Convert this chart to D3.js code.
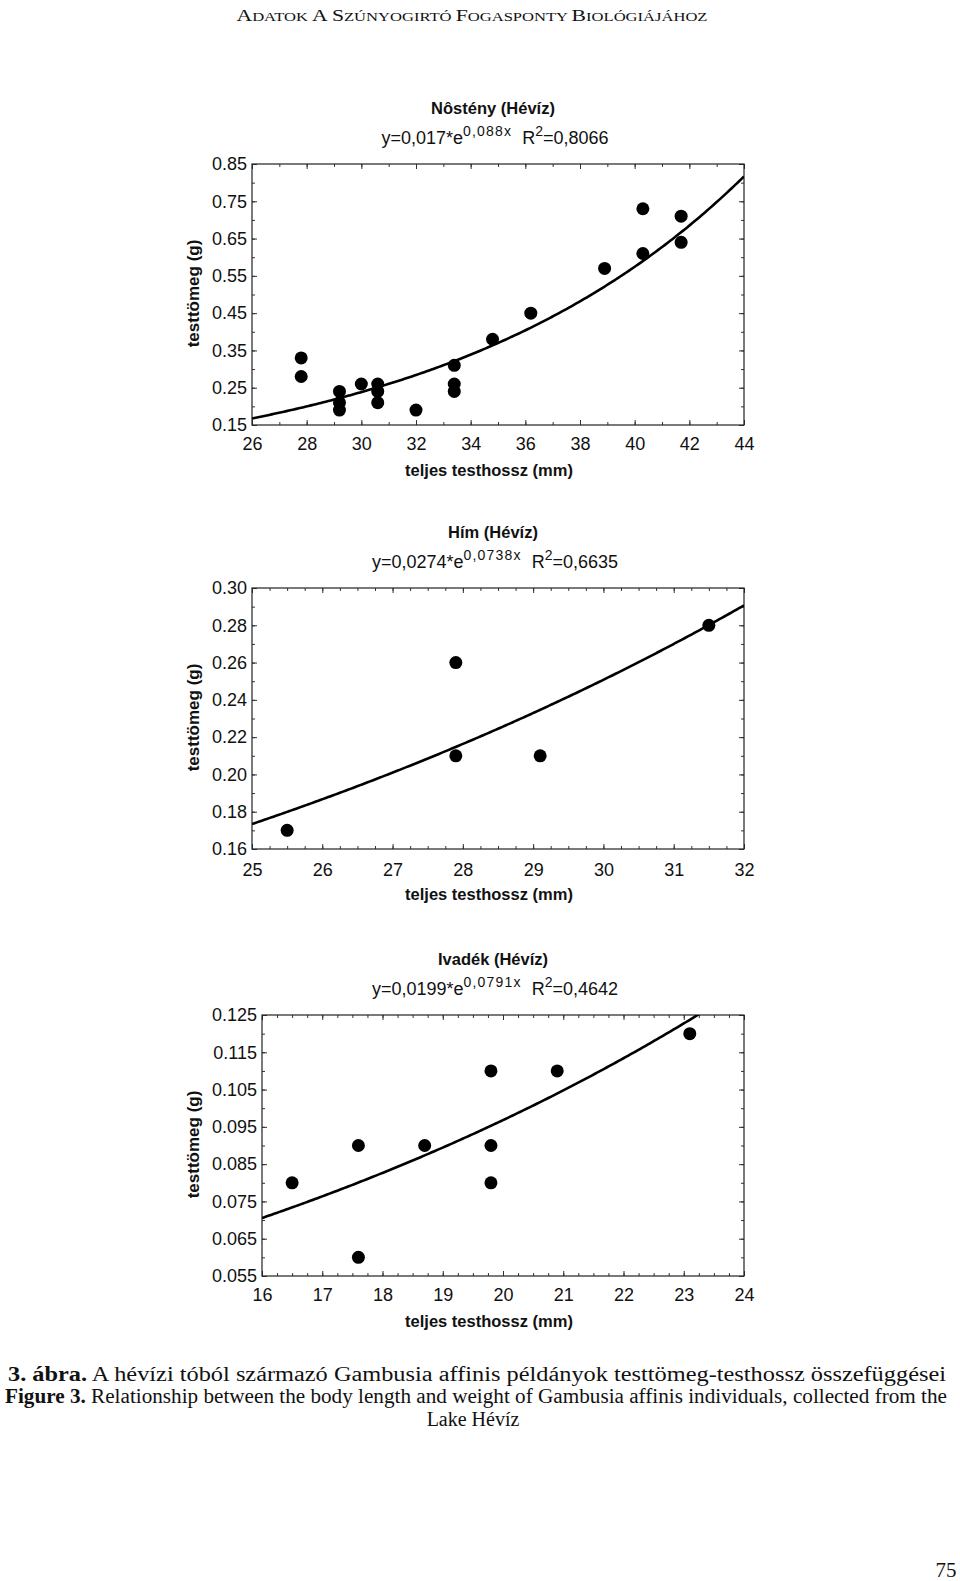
<!DOCTYPE html>
<html><head><meta charset="utf-8">
<script src="https://cdn.jsdelivr.net/npm/d3@7"></script>
<style>body{margin:0;background:#fff}svg{display:block}</style>
</head><body>
<script>
// ---------- DATA ----------
// Panel 1: Nôstény (female)
const femaleLength = [27.8, 27.8, 29.2, 29.2, 29.2, 30.0, 30.6, 30.6, 30.6, 32.0, 33.4, 33.4, 33.4, 34.8, 36.2, 38.9, 40.3, 40.3, 41.7, 41.7];
const femaleWeight = [0.33, 0.28, 0.24, 0.21, 0.19, 0.26, 0.26, 0.24, 0.21, 0.19, 0.31, 0.26, 0.24, 0.38, 0.45, 0.57, 0.73, 0.61, 0.71, 0.64];
const femaleXTicks = [26, 28, 30, 32, 34, 36, 38, 40, 42, 44];
const femaleYTicks = [0.85, 0.75, 0.65, 0.55, 0.45, 0.35, 0.25, 0.15];
// Panel 2: Hím (male)
const maleLength = [25.5, 27.9, 27.9, 29.1, 31.5];
const maleWeight = [0.17, 0.26, 0.21, 0.21, 0.28];
const maleXTicks = [25, 26, 27, 28, 29, 30, 31, 32];
const maleYTicks = [0.30, 0.28, 0.26, 0.24, 0.22, 0.20, 0.18, 0.16];
// Panel 3: Ivadék (juvenile)
const juvLength = [16.5, 17.6, 17.6, 18.7, 19.8, 19.8, 19.8, 20.9, 23.1];
const juvWeight = [0.08, 0.09, 0.06, 0.09, 0.11, 0.09, 0.08, 0.11, 0.12];
const juvXTicks = [16, 17, 18, 19, 20, 21, 22, 23, 24];
const juvYTicks = [0.125, 0.115, 0.105, 0.095, 0.085, 0.075, 0.065, 0.055];
// Fitted exponential trend lines, as printed on the chart: y = a * e^(b x)
const fitA = [0.017, 0.0274, 0.0199];
const fitB = [0.088, 0.0738, 0.0791];
const fitR2 = ["0,8066", "0,6635", "0,4642"];
const panelTitles = ["Nôstény (Hévíz)", "Hím (Hévíz)", "Ivadék (Hévíz)"];
const coefA = ["0,017", "0,0274", "0,0199"];
const coefB = ["0,088x", "0,0738x", "0,0791x"];
const yAxisTitle = "testtömeg (g)";
const xAxisTitle = "teljes testhossz (mm)";

// ---------- LAYOUT ----------
const W = 960, H = 1581;
const sans = "'Liberation Sans', Arial, Helvetica, sans-serif";
const serif = "'Liberation Serif', 'Times New Roman', serif";
const svg = d3.select("body").append("svg").attr("width", W).attr("height", H);
svg.append("rect").attr("width", W).attr("height", H).attr("fill", "#fff");

const panels = [
  {len: femaleLength, wt: femaleWeight, xt: femaleXTicks, yt: femaleYTicks,
   box: {l: 252, r: 744, t: 164, b: 425}, xMinor: 1, yMinor: 0.05, yFmt: ".2f", xPad: 12},
  {len: maleLength, wt: maleWeight, xt: maleXTicks, yt: maleYTicks,
   box: {l: 252, r: 744, t: 588, b: 849}, xMinor: 0.25, yMinor: 0.01, yFmt: ".2f", xPad: 14},
  {len: juvLength, wt: juvWeight, xt: juvXTicks, yt: juvYTicks,
   box: {l: 262, r: 744, t: 1015, b: 1276}, xMinor: 0.25, yMinor: 0.005, yFmt: ".3f", xPad: 12}
];

function minorTicks(lo, hi, step) {
  const n = Math.round((hi - lo) / step);
  return d3.range(n + 1).map(i => +(lo + i * step).toFixed(6));
}

panels.forEach((p, i) => {
  const {l, r, t, b} = p.box;
  const x = d3.scaleLinear().domain([p.xt[0], p.xt[p.xt.length - 1]]).range([l, r]);
  const y = d3.scaleLinear().domain([p.yt[p.yt.length - 1], p.yt[0]]).range([b, t]);
  const g = svg.append("g");

  // title and equation
  g.append("text").attr("x", 493).attr("y", t - 50).attr("text-anchor", "middle")
    .attr("font-family", sans).attr("font-size", 16.5).attr("font-weight", "bold")
    .attr("fill", "#111").text(panelTitles[i]);
  const eq = g.append("text").attr("x", 495).attr("y", t - 20).attr("text-anchor", "middle")
    .attr("font-family", sans).attr("font-size", 18).attr("fill", "#111");
  eq.append("tspan").text("y=" + coefA[i] + "*e");
  eq.append("tspan").attr("dy", -8).attr("font-size", 14).attr("letter-spacing", 1.2).text(coefB[i]);
  eq.append("tspan").attr("dy", 8).attr("dx", 10).text("R");
  eq.append("tspan").attr("dy", -8).attr("font-size", 14).text("2");
  eq.append("tspan").attr("dy", 8).text("=" + fitR2[i]);

  // axes: major ticks with labels
  const xMin = minorTicks(p.xt[0], p.xt[p.xt.length - 1], p.xMinor);
  const yMin = minorTicks(p.yt[p.yt.length - 1], p.yt[0], p.yMinor);

  const axB = g.append("g").attr("transform", `translate(0,${b})`)
    .call(d3.axisBottom(x).tickValues(p.xt).tickFormat(d3.format("d")).tickSizeInner(-5).tickSizeOuter(0).tickPadding(p.xPad));
  const axL = g.append("g").attr("transform", `translate(${l},0)`)
    .call(d3.axisLeft(y).tickValues(p.yt).tickFormat(d3.format(p.yFmt)).tickSizeInner(-5).tickSizeOuter(0).tickPadding(5));
  const axT = g.append("g").attr("transform", `translate(0,${t})`)
    .call(d3.axisTop(x).tickValues(p.xt).tickFormat("").tickSizeInner(-5).tickSizeOuter(0));
  const axR = g.append("g").attr("transform", `translate(${r},0)`)
    .call(d3.axisRight(y).tickValues(p.yt).tickFormat("").tickSizeInner(-5).tickSizeOuter(0));
  // minor ticks
  const mB = g.append("g").attr("transform", `translate(0,${b})`)
    .call(d3.axisBottom(x).tickValues(xMin).tickFormat("").tickSizeInner(-3).tickSizeOuter(0));
  const mT = g.append("g").attr("transform", `translate(0,${t})`)
    .call(d3.axisTop(x).tickValues(xMin).tickFormat("").tickSizeInner(-3).tickSizeOuter(0));
  const mL = g.append("g").attr("transform", `translate(${l},0)`)
    .call(d3.axisLeft(y).tickValues(yMin).tickFormat("").tickSizeInner(-3).tickSizeOuter(0));
  const mR = g.append("g").attr("transform", `translate(${r},0)`)
    .call(d3.axisRight(y).tickValues(yMin).tickFormat("").tickSizeInner(-3).tickSizeOuter(0));

  [axB, axL, axT, axR, mB, mT, mL, mR].forEach(a => {
    a.select(".domain").remove();
    a.selectAll(".tick line").attr("stroke", "#333").attr("stroke-width", 1);
    a.selectAll(".tick text").attr("font-family", sans).attr("font-size", 18).attr("fill", "#111");
  });

  // frame
  g.append("rect").attr("x", l).attr("y", t).attr("width", r - l).attr("height", b - t)
    .attr("fill", "none").attr("stroke", "#222").attr("stroke-width", 1.2);

  // axis titles
  g.append("text").attr("x", 489).attr("y", b + 51).attr("text-anchor", "middle")
    .attr("font-family", sans).attr("font-size", 16.5).attr("font-weight", "bold").attr("fill", "#111")
    .text(xAxisTitle);
  g.append("text").attr("transform", `translate(199,${(t + b) / 2 - 1}) rotate(-90)`)
    .attr("text-anchor", "middle").attr("font-family", sans).attr("font-size", 17)
    .attr("font-weight", "bold").attr("fill", "#111").text(yAxisTitle);

  // trend line (clipped to the frame)
  const clipId = "clip" + i;
  svg.append("clipPath").attr("id", clipId).append("rect")
    .attr("x", l).attr("y", t).attr("width", r - l).attr("height", b - t);
  const xs = d3.range(p.xt[0], p.xt[p.xt.length - 1] + 1e-9, (p.xt[p.xt.length - 1] - p.xt[0]) / 200);
  const line = d3.line().x(d => x(d)).y(d => y(fitA[i] * Math.exp(fitB[i] * d))).curve(d3.curveLinear);
  g.append("path").datum(xs).attr("d", line).attr("fill", "none").attr("stroke", "#000")
    .attr("stroke-width", 2.6).attr("clip-path", `url(#${clipId})`);

  // points
  g.selectAll("circle.pt").data(p.len.map((v, k) => [v, p.wt[k]])).enter().append("circle")
    .attr("class", "pt").attr("cx", d => x(d[0])).attr("cy", d => y(d[1])).attr("r", 6.5).attr("fill", "#000");
});

// ---------- PAGE TEXT ----------
const header = svg.append("text").attr("x", 472).attr("y", 21).attr("text-anchor", "middle")
  .attr("font-family", serif).attr("fill", "#111").attr("textLength", 471).attr("lengthAdjust", "spacingAndGlyphs");
[["A", 1], ["DATOK", 0], [" ", 0], ["A", 1], [" ", 0], ["S", 1], ["ZÚNYOGIRTÓ", 0], [" ", 0],
 ["F", 1], ["OGASPONTY", 0], [" ", 0], ["B", 1], ["IOLÓGIÁJÁHOZ", 0]].forEach(([s, big]) => {
  header.append("tspan").attr("font-size", big ? 17 : 13).text(s);
});

const cap1 = svg.append("text").attr("x", 477).attr("y", 1381).attr("text-anchor", "middle")
  .attr("font-family", serif).attr("font-size", 20).attr("fill", "#111")
  .attr("textLength", 938).attr("lengthAdjust", "spacingAndGlyphs");
cap1.append("tspan").attr("font-weight", "bold").text("3. ábra.");
cap1.append("tspan").text(" A hévízi tóból származó Gambusia affinis példányok testtömeg-testhossz összefüggései");

const cap2 = svg.append("text").attr("x", 476).attr("y", 1403).attr("text-anchor", "middle")
  .attr("font-family", serif).attr("font-size", 20).attr("fill", "#111")
  .attr("textLength", 942).attr("lengthAdjust", "spacingAndGlyphs");
cap2.append("tspan").attr("font-weight", "bold").text("Figure 3.");
cap2.append("tspan").text(" Relationship between the body length and weight of Gambusia affinis individuals, collected from the");

svg.append("text").attr("x", 473).attr("y", 1426).attr("text-anchor", "middle")
  .attr("font-family", serif).attr("font-size", 20).attr("fill", "#111").text("Lake Hévíz");

svg.append("text").attr("x", 946).attr("y", 1577).attr("text-anchor", "middle")
  .attr("font-family", serif).attr("font-size", 21).attr("fill", "#111").text("75");
</script>
</body></html>
